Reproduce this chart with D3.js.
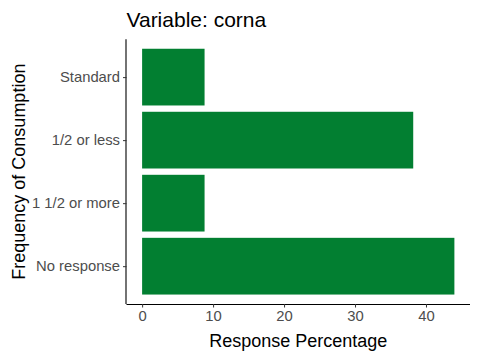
<!DOCTYPE html>
<html><head><meta charset="utf-8">
<script src="https://cdn.jsdelivr.net/npm/d3@7"></script>
<style>body{margin:0;background:#fff;} text{font-family:"Liberation Sans",Arial,sans-serif;}</style>
</head><body>
<svg id="c" width="480" height="360"></svg>
<script>
const categories = ["Standard", "1/2 or less", "1 1/2 or more", "No response"];
const values = [8.8, 38.2, 8.8, 44.0];
const xTicks = [0, 10, 20, 30, 40];
const title = "Variable: corna";
const xTitle = "Response Percentage";
const yTitle = "Frequency of Consumption";

(function () {
const svg = d3.select("#c");
const pL = 126.5, pR = 470, pT = 39.3, pB = 304;
const maxV = d3.max(values);
const x = d3.scaleLinear().domain([-0.05 * maxV, maxV * 1.05]).range([pL, pR]);
// ggplot: discrete expand 0.6 each side, bar width 0.9
const unit = (pB - pT) / (categories.length - 1 + 1.2);
const yc = d3.scalePoint().domain(categories).range([pT + 0.6 * unit, pB - 0.6 * unit]);
const bw = 0.9 * unit;

svg.selectAll("rect.bar").data(categories).join("rect")
  .attr("class", "bar")
  .attr("x", x(0))
  .attr("y", d => yc(d) - bw / 2)
  .attr("width", (d, i) => x(values[i]) - x(0))
  .attr("height", bw)
  .attr("fill", "#027f31");

const xAxis = d3.axisBottom(x).tickValues(xTicks).tickSize(3.5).tickPadding(3);
const gx = svg.append("g").attr("transform", `translate(0,${pB})`).call(xAxis);
gx.select(".domain").attr("d", `M${pL},0.5H${pR}`).attr("stroke", "#000").attr("stroke-width", 1.1);
gx.selectAll(".tick line").attr("stroke", "#333");
gx.selectAll(".tick text").attr("fill", "#4d4d4d").style("font-size", "14.8px");

const yAxis = d3.axisLeft(yc).tickSize(3.5).tickPadding(3);
const gy = svg.append("g").attr("transform", `translate(${pL},0)`).call(yAxis);
gy.select(".domain").attr("d", `M-0.5,${pT}V${pB}`).attr("stroke", "#000").attr("stroke-width", 1.1);
gy.selectAll(".tick line").attr("stroke", "#333");
gy.selectAll(".tick text").attr("fill", "#4d4d4d").style("font-size", "14.8px");

svg.append("text").attr("x", 126.5).attr("y", 27).style("font-size", "21px").attr("fill", "#000").text(title);
svg.append("text").attr("x", (pL + pR) / 2).attr("y", 347).attr("text-anchor", "middle")
  .style("font-size", "18px").attr("fill", "#000").text(xTitle);
svg.append("text").attr("transform", `translate(25,${(pT + pB) / 2}) rotate(-90)`).attr("text-anchor", "middle")
  .style("font-size", "18px").attr("fill", "#000").text(yTitle);
})();
</script>
</body></html>
